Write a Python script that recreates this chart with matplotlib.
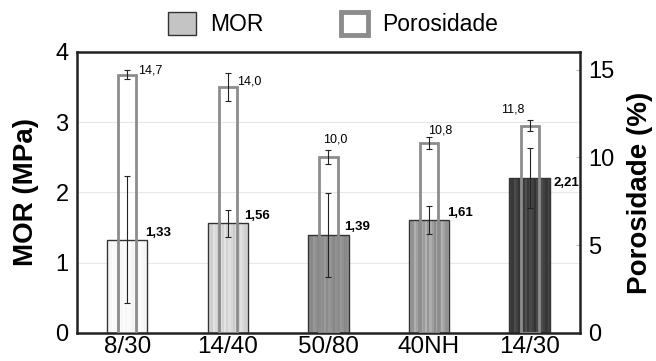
import numpy as np
import matplotlib
matplotlib.use('Agg')
import matplotlib.pyplot as plt
from matplotlib.patches import Patch

plt.rcParams['font.family'] = ['Liberation Sans', 'DejaVu Sans']

# data
categories = ['8/30', '14/40', '50/80', '40NH', '14/30']
mor = [1.33, 1.56, 1.39, 1.61, 2.21]
mor_err = [0.90, 0.19, 0.60, 0.20, 0.43]
porosidade = [14.7, 14.0, 10.0, 10.8, 11.8]
por_err = [0.25, 0.8, 0.4, 0.35, 0.3]
mor_labels = ['1,33', '1,56', '1,39', '1,61', '2,21']
por_labels = ['14,7', '14,0', '10,0', '10,8', '11,8']

# bar look (base grey + stripe strength)
mor_base = [0.97, 0.84, 0.56, 0.62, 0.25]
mor_stripe = [0.03, 0.08, 0.07, 0.14, 0.10]
stripe_profile = [0.2, -0.3, 0.5, 0.1, -0.4, 0.3, -0.1, 0.6, -0.2, 0.4,
                  0.0, -0.5, 0.3, -0.2, 0.5, 0.1, -0.3, 0.2]
# label offsets in points (from bar centre / top)
mor_lab_off = [(13, 5), (12, 5), (11, 6), (13, 5), (17, -4)]
por_lab_off = [(8, 3), (6.5, 4), (5, 13), (8, 9), (-12, 12)]

x = np.arange(len(categories))

fig = plt.figure(figsize=(6.56, 3.61), dpi=100)
ax = fig.add_axes([0.1174, 0.0776, 0.7666, 0.7784])
ax2 = ax.twinx()

ax.set_zorder(2)
ax.patch.set_visible(False)

for y in [1, 2, 3]:
    ax2.axhline(y * 4.0, color='#e8e8e8', lw=0.8, zorder=0)

bars = ax.bar(x, mor, width=0.4, color='none', edgecolor='#333333', lw=1.0, zorder=3)
for b, base, amp in zip(bars, mor_base, mor_stripe):
    row = np.clip(base + amp * np.array(stripe_profile), 0, 1)
    img = np.tile(row, (2, 1))
    im = ax.imshow(img, cmap='gray', vmin=0, vmax=1, aspect='auto',
                   extent=[b.get_x(), b.get_x() + b.get_width(), 0, b.get_height()],
                   zorder=2, interpolation='nearest')
    im.set_clip_path(b)
ax.errorbar(x, mor, yerr=mor_err, fmt='none', ecolor='#222222', elinewidth=0.8,
            capsize=2.5, capthick=0.8, zorder=5)

# porosity: hollow bars on the right axis scale, drawn on top
scale = 4.0 / 16.0
ax.bar(x, [p * scale for p in porosidade], width=0.18, color='none',
       edgecolor='#8c8c8c', lw=2.0, zorder=4)
ax.errorbar(x, [p * scale for p in porosidade], yerr=[e * scale for e in por_err],
            fmt='none', ecolor='#222222', elinewidth=0.8, capsize=2.5, capthick=0.8, zorder=5)

for i in range(len(x)):
    ax.annotate(mor_labels[i], (x[i], mor[i]), xytext=mor_lab_off[i],
                textcoords='offset points', ha='left', va='center',
                fontsize=9.5, fontweight='bold', zorder=6)
    ax.annotate(por_labels[i], (x[i], porosidade[i] * scale), xytext=por_lab_off[i],
                textcoords='offset points', ha='left' if i < 2 else 'center',
                va='center', fontsize=9, zorder=6)

ax.set_xlim(-0.5, 4.5)
ax.set_ylim(0, 4)
ax2.set_ylim(0, 16)
ax.set_xticks(x)
ax.set_xticklabels(categories, fontsize=17.5)
ax.set_yticks([0, 1, 2, 3, 4])
ax.tick_params(axis='y', labelsize=17, length=0, pad=6)
ax.tick_params(axis='x', length=0, pad=2)
ax2.set_yticks([0, 5, 10, 15])
ax2.tick_params(axis='y', labelsize=17, length=3, direction='in', pad=6, color='#bbbbbb')

for sp in ax.spines.values():
    sp.set_linewidth(1.8)
    sp.set_color('#222222')
for sp in ax2.spines.values():
    sp.set_visible(False)

ax.set_ylabel('MOR (MPa)', fontsize=20, fontweight='bold', labelpad=12)
ax2.set_ylabel('Porosidade (%)', fontsize=20, fontweight='bold', labelpad=9)

handles = [Patch(facecolor='#c4c4c4', edgecolor='#333333', lw=1.0),
           Patch(facecolor='white', edgecolor='#8c8c8c', lw=3.5)]
fig.legend(handles, ['MOR', 'Porosidade'], loc='upper center', bbox_to_anchor=(0.508, 1.025),
           ncol=2, frameon=False, fontsize=16.5, handlelength=1.2, handleheight=1.2,
           columnspacing=3.4, handletextpad=0.6)

fig.savefig('out.png', dpi=100)
